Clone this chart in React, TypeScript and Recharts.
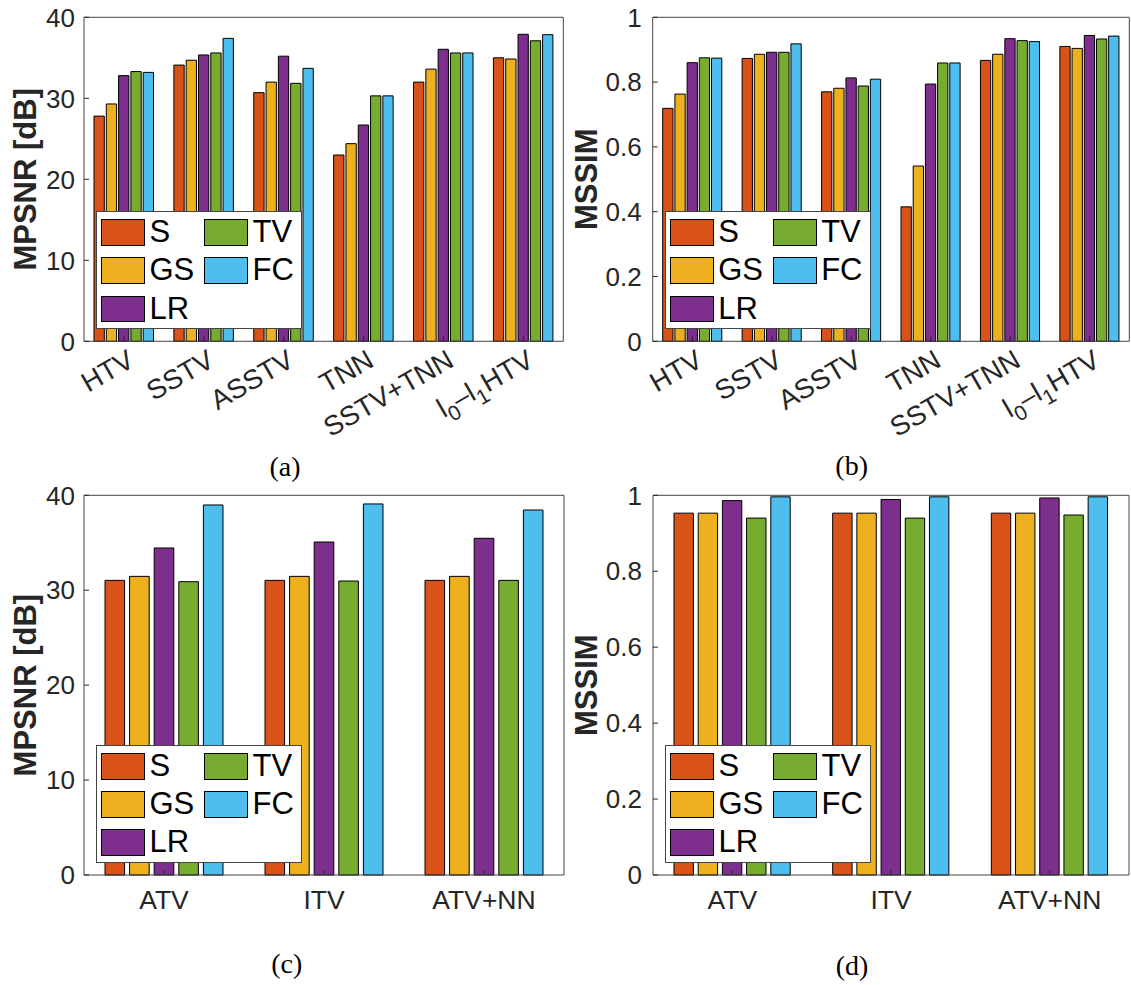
import { BarChart, Bar, XAxis, YAxis, Legend, Label } from "recharts";

// methods on the upper row of panels and on the lower row
const upperMethods = ["HTV", "SSTV", "ASSTV", "TNN", "SSTV+TNN", "l_0–l_1HTV"];
const lowerMethods = ["ATV", "ITV", "ATV+NN"];

const seriesNames = ["S", "GS", "LR", "TV", "FC"];
const seriesColors = ["#D95319", "#EDB120", "#7E2F8E", "#77AC30", "#4DBEEE"];

// (a) MPSNR [dB], upper methods
const psnrUpperS = [27.8, 34.1, 30.7, 23.0, 32.0, 35.0];
const psnrUpperGS = [29.3, 34.7, 32.0, 24.4, 33.6, 34.85];
const psnrUpperLR = [32.8, 35.35, 35.2, 26.7, 36.05, 37.9];
const psnrUpperTV = [33.3, 35.6, 31.85, 30.3, 35.6, 37.1];
const psnrUpperFC = [33.2, 37.4, 33.7, 30.3, 35.6, 37.85];

// (b) MSSIM, upper methods
const ssimUpperS = [0.719, 0.873, 0.77, 0.415, 0.867, 0.91];
const ssimUpperGS = [0.763, 0.886, 0.781, 0.541, 0.886, 0.904];
const ssimUpperLR = [0.86, 0.892, 0.813, 0.794, 0.934, 0.944];
const ssimUpperTV = [0.875, 0.892, 0.788, 0.859, 0.928, 0.933];
const ssimUpperFC = [0.874, 0.918, 0.809, 0.859, 0.925, 0.942];

// (c) MPSNR [dB], lower methods
const psnrLowerS = [31.04, 31.04, 31.04];
const psnrLowerGS = [31.46, 31.46, 31.46];
const psnrLowerLR = [34.45, 35.08, 35.47];
const psnrLowerTV = [30.9, 30.97, 31.04];
const psnrLowerFC = [38.98, 39.09, 38.45];

// (d) MSSIM, lower methods
const ssimLowerS = [0.953, 0.953, 0.953];
const ssimLowerGS = [0.953, 0.953, 0.953];
const ssimLowerLR = [0.986, 0.989, 0.993];
const ssimLowerTV = [0.94, 0.94, 0.948];
const ssimLowerFC = [0.996, 0.996, 0.996];

const psnrTicks = [0, 10, 20, 30, 40];
const ssimTicks = [0, 0.2, 0.4, 0.6, 0.8, 1];

const SANS = "'Liberation Sans', Arial, sans-serif";
const SERIF = "'Liberation Serif', 'Times New Roman', serif";
const INK = "#262626";
const FRAME = "#444444";

function buildRows(categories: string[], values: number[][]) {
  return categories.map((name, i) => {
    const row: Record<string, string | number> = { name };
    seriesNames.forEach((s, k) => {
      row[s] = values[k][i];
    });
    return row;
  });
}

// tick label rotated 30deg, "_x" turns into a subscript
function SlantTick(props: any) {
  const { x, y, payload } = props;
  const parts = String(payload.value).split(/_(.)/);
  const ax = x + 12;
  const ay = y + 4;
  return (
    <text
      x={ax}
      y={ay}
      transform={`rotate(-30 ${ax} ${ay})`}
      textAnchor="end"
      fontSize={27.5}
      fontFamily={SANS}
      fill={INK}
    >
      {parts.map((p, i) =>
        i % 2 === 1 ? (
          <tspan key={i} dy={8} fontSize={21}>
            {p}
          </tspan>
        ) : (
          <tspan key={i} dy={i > 0 ? -8 : 0}>
            {p}
          </tspan>
        )
      )}
    </text>
  );
}

// two-column boxed legend: S, GS, LR down the first column, TV, FC in the second
function MethodLegend(props: any) {
  const given: any[] = props.payload && props.payload.length ? props.payload : [];
  const entries = seriesNames.map((s, i) => {
    const hit = given.find((e) => e.value === s || e.dataKey === s);
    return { value: s, color: hit ? hit.color : seriesColors[i] };
  });
  return (
    <div
      style={{
        position: "relative",
        width: 206,
        height: 118,
        boxSizing: "border-box",
        border: `1px solid ${FRAME}`,
        background: "#fff",
      }}
    >
      {entries.map((entry, i) => {
        const col = i < 3 ? 0 : 1;
        const row = i % 3;
        const left = col === 0 ? 4 : 107;
        const top = 7 + row * 38.2;
        return (
          <div key={entry.value} style={{ position: "absolute", left, top, display: "flex", alignItems: "center" }}>
            <div
              style={{
                width: 44,
                height: 26.7,
                boxSizing: "border-box",
                border: "1px solid #000",
                background: entry.color,
              }}
            />
            <span
              style={{
                marginLeft: 4.5,
                fontFamily: SANS,
                fontSize: 31,
                lineHeight: "26.7px",
                color: "#000",
              }}
            >
              {entry.value}
            </span>
          </div>
        );
      })}
    </div>
  );
}

interface PanelProps {
  left: number;
  top: number;
  width: number;
  height: number;
  plotLeft: number;
  plotTop: number;
  plotRight: number;
  plotBottom: number;
  categories: string[];
  values: number[][];
  yMax: number;
  yTicks: number[];
  yTitle: string;
  titleX: number;
  tickGap: number;
  slanted: boolean;
  barSize: number;
  barGap: number;
}

function Panel(p: PanelProps) {
  const rows = buildRows(p.categories, p.values);
  const xAxisHeight = p.height - p.plotBottom;
  const titleY = (p.plotTop + p.plotBottom) / 2;
  return (
    <div style={{ position: "absolute", left: p.left, top: p.top }}>
      <BarChart
        width={p.width}
        height={p.height}
        data={rows}
        margin={{ top: p.plotTop - 1, right: p.width - p.plotRight - 1, left: 0, bottom: 0 }}
        barSize={p.barSize}
        barGap={p.barGap}
      >
        <XAxis
          dataKey="name"
          interval={0}
          height={xAxisHeight}
          stroke={FRAME}
          tickSize={-5}
          tickMargin={p.slanted ? 25 : 20}
          tickLine={{ stroke: INK }}
          tick={
            p.slanted
              ? SlantTick
              : { fontSize: 26.5, fontFamily: SANS, fill: INK }
          }
        />
        <XAxis
          xAxisId="top"
          dataKey="name"
          orientation="top"
          interval={0}
          height={1}
          stroke={FRAME}
          tickSize={-5}
          tickLine={{ stroke: INK }}
          tick={false}
        />
        <YAxis
          domain={[0, p.yMax]}
          ticks={p.yTicks}
          width={p.plotLeft}
          stroke={FRAME}
          tickSize={-5}
          tickMargin={5 + p.tickGap}
          tickLine={{ stroke: INK }}
          tick={{ fontSize: 26, fontFamily: SANS, fill: INK }}
        >
          <Label
            content={() => (
              <text
                x={p.titleX}
                y={titleY}
                transform={`rotate(-90 ${p.titleX} ${titleY})`}
                textAnchor="middle"
                dominantBaseline="central"
                fontSize={31}
                fontWeight="bold"
                fontFamily={SANS}
                fill={INK}
              >
                {p.yTitle}
              </text>
            )}
          />
        </YAxis>
        <YAxis
          yAxisId="right"
          orientation="right"
          domain={[0, p.yMax]}
          ticks={p.yTicks}
          width={1}
          stroke={FRAME}
          tickSize={-5}
          tickLine={{ stroke: INK }}
          tick={false}
        />
        {seriesNames.map((s, i) => (
          <Bar
            key={s}
            dataKey={s}
            fill={seriesColors[i]}
            stroke="#000"
            strokeWidth={1}
            isAnimationActive={false}
          />
        ))}
        <Legend
          layout="horizontal"
          verticalAlign="middle"
          align="center"
          content={MethodLegend}
          wrapperStyle={{
            left: p.plotLeft + 12,
            top: p.plotBottom - 130,
            width: 206,
            height: 118,
          }}
        />
      </BarChart>
    </div>
  );
}

function Caption({ cx, baseline, text }: { cx: number; baseline: number; text: string }) {
  return (
    <div
      style={{
        position: "absolute",
        left: cx - 50,
        top: baseline - 23.4,
        width: 100,
        textAlign: "center",
        fontFamily: SERIF,
        fontSize: 28,
        lineHeight: "28px",
        color: "#000",
      }}
    >
      {text}
    </div>
  );
}

export default function App() {
  return (
    <div
      style={{
        position: "absolute",
        left: 0,
        top: 0,
        width: 1131,
        height: 985,
        background: "#fff",
        overflow: "hidden",
      }}
    >
      <Panel
        left={0}
        top={0}
        width={566}
        height={440}
        plotLeft={84}
        plotTop={17.3}
        plotRight={563.3}
        plotBottom={341.3}
        categories={upperMethods}
        values={[psnrUpperS, psnrUpperGS, psnrUpperLR, psnrUpperTV, psnrUpperFC]}
        yMax={40}
        yTicks={psnrTicks}
        yTitle="MPSNR [dB]"
        titleX={26}
        tickGap={9}
        slanted
        barSize={10.3}
        barGap={2}
      />
      <Panel
        left={566}
        top={0}
        width={565}
        height={440}
        plotLeft={86.7}
        plotTop={17.3}
        plotRight={563.3}
        plotBottom={341.3}
        categories={upperMethods}
        values={[ssimUpperS, ssimUpperGS, ssimUpperLR, ssimUpperTV, ssimUpperFC]}
        yMax={1}
        yTicks={ssimTicks}
        yTitle="MSSIM"
        titleX={21}
        tickGap={11}
        slanted
        barSize={10.3}
        barGap={1.9}
      />
      <Panel
        left={0}
        top={480}
        width={566}
        height={440}
        plotLeft={84}
        plotTop={15.3}
        plotRight={564}
        plotBottom={395}
        categories={lowerMethods}
        values={[psnrLowerS, psnrLowerGS, psnrLowerLR, psnrLowerTV, psnrLowerFC]}
        yMax={40}
        yTicks={psnrTicks}
        yTitle="MPSNR [dB]"
        titleX={26}
        tickGap={9}
        slanted={false}
        barSize={19.6}
        barGap={5}
      />
      <Panel
        left={566}
        top={480}
        width={565}
        height={440}
        plotLeft={87}
        plotTop={15.3}
        plotRight={563}
        plotBottom={395}
        categories={lowerMethods}
        values={[ssimLowerS, ssimLowerGS, ssimLowerLR, ssimLowerTV, ssimLowerFC]}
        yMax={1}
        yTicks={ssimTicks}
        yTitle="MSSIM"
        titleX={21}
        tickGap={11}
        slanted={false}
        barSize={19.4}
        barGap={4.8}
      />
      <Caption cx={285} baseline={476} text="(a)" />
      <Caption cx={851.7} baseline={475} text="(b)" />
      <Caption cx={286.7} baseline={973} text="(c)" />
      <Caption cx={852} baseline={975} text="(d)" />
    </div>
  );
}
